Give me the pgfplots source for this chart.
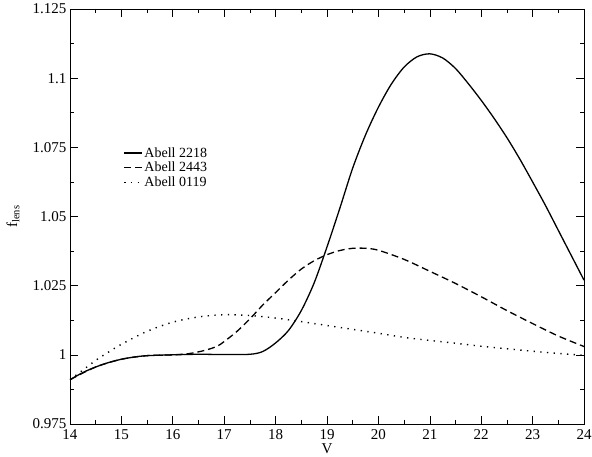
\documentclass[border=0pt]{standalone}
\usepackage{fontspec}
\setmainfont{Liberation Serif}
\usepackage{pgfplots}
\pgfplotsset{compat=1.18}
\begin{document}
\begin{tikzpicture}
\begin{axis}[
  scale only axis,
  width=514pt, height=415pt,
  xmin=14, xmax=24, ymin=0.975, ymax=1.125,
  xtick={14,15,...,24},
  ytick={0.975,1,1.025,1.05,1.075,1.1,1.125},
  minor x tick num=1, minor y tick num=1,
  tick align=inside,
  major tick length=8pt, minor tick length=4pt,
  tick style={line width=0.6pt, black},
  axis line style={line width=0.9pt},
  xticklabel style={/pgf/number format/fixed, yshift=-2pt},
  yticklabel style={/pgf/number format/fixed, /pgf/number format/precision=3},
  /pgf/number format/assume math mode=true,
  tick label style={font=\fontsize{15}{17}\selectfont},
  scaled y ticks=false,
  xlabel={V}, ylabel={f\textsubscript{lens}},
  label style={font=\fontsize{15}{17}\selectfont},
  xlabel style={at={(axis description cs:0.5,0)}, anchor=center, yshift=-25pt},
  ylabel style={at={(axis description cs:-0.111,0.5)}, anchor=center},
  legend style={draw=none, fill=none, at={(axis cs:14.98,1.0763)}, anchor=north west,
    font=\fontsize{14}{14}\selectfont, row sep=0.5pt,
    nodes={inner sep=1.5pt}},
  legend cell align=left,
  legend image code/.code={\draw[#1] (0pt,0pt) -- (18pt,0pt);},
]
\addplot[black, line width=1.3pt, smooth] coordinates {
(14,0.991) (14.25,0.9936) (14.5,0.9956) (14.75,0.9972) (15,0.9984) (15.25,0.9992)
(15.5,0.9997) (16,1.0) (16.5,1.0002) (17,1.0001) (17.5,1.0002) (17.75,1.0012)
(18,1.0043) (18.25,1.0088) (18.5,1.016) (18.75,1.026) (19,1.039) (19.25,1.053)
(19.5,1.0675) (19.75,1.0795) (20,1.0895) (20.25,1.0978) (20.5,1.104) (20.75,1.1077)
(21,1.1088) (21.25,1.1073) (21.5,1.1035) (21.75,1.098) (22,1.092) (22.25,1.0855)
(22.5,1.0785) (22.75,1.0708) (23,1.0625) (23.25,1.054) (23.5,1.045) (23.75,1.036) (24,1.027)
};
\addlegendentry{Abell 2218}
\addplot[black, line width=1.3pt, dash pattern=on 7pt off 4pt, smooth] coordinates {
(14,0.991) (14.5,0.9956) (15,0.9984) (15.5,0.9997) (16,1.0) (16.3,1.0004) (16.6,1.0015)
(16.85,1.003) (17,1.0048) (17.25,1.0085) (17.5,1.013) (17.75,1.018) (18,1.0225)
(18.25,1.027) (18.5,1.031) (18.75,1.034) (19,1.0362) (19.25,1.0377) (19.5,1.0385)
(19.75,1.0385) (20,1.0378) (20.5,1.0345) (21,1.0302) (21.5,1.0258) (22,1.021)
(22.5,1.016) (23,1.0113) (23.5,1.0068) (24,1.003)
};
\addlegendentry{Abell 2443}
\addplot[black, line width=1.4pt, dash pattern=on 1.3pt off 5.4pt, smooth] coordinates {
(14,0.991) (14.25,0.9945) (14.5,0.998) (14.75,1.001) (15,1.0038) (15.5,1.0085)
(16,1.0118) (16.5,1.0137) (17,1.0145) (17.5,1.0142) (18,1.0133) (18.5,1.012)
(19,1.0106) (19.5,1.0092) (20,1.0078) (20.5,1.0063) (21,1.0052) (21.5,1.0042)
(22,1.0031) (22.5,1.0022) (23,1.0013) (23.5,1.0005) (24,0.9998)
};
\addlegendentry{Abell 0119}
\end{axis}
\pgfresetboundingbox
\useasboundingbox ([xshift=-70pt,yshift=-33pt]current axis.south west) rectangle ([xshift=8pt,yshift=9pt]current axis.north east);
\end{tikzpicture}
\end{document}
